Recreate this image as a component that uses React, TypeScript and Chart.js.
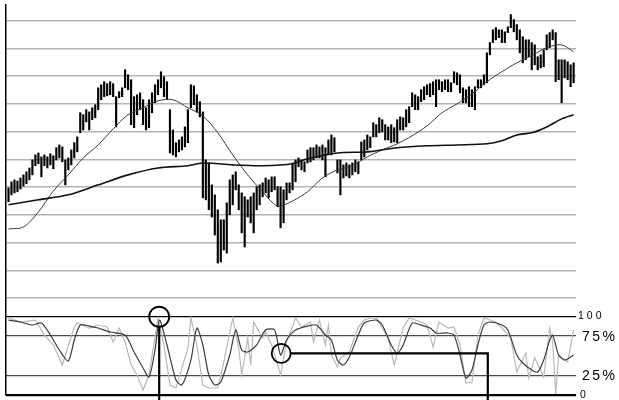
import React, { useEffect, useRef } from 'react';
import { Chart, registerables } from 'chart.js';

Chart.register(...registerables);

// ---- Price bars (high / low), one per session ----
const highs = [
  39.7, 41.9, 42.6, 42.2, 43.3, 44.4, 45.5, 46.9, 49.8, 51.6,
  52.3, 50.9, 51.6, 50.9, 52.0, 51.3, 54.2, 55.2, 54.5, 49.8,
  50.5, 53.4, 56.0, 58.1, 66.8, 66.1, 67.9, 67.1, 68.6, 69.7,
  75.8, 76.9, 78.0, 77.3, 78.0, 77.3, 72.6, 74.4, 75.8, 82.3,
  80.5, 78.7, 72.6, 73.3, 74.0, 71.5, 68.6, 71.5, 74.0, 76.9,
  78.7, 81.6, 79.8, 78.0, 67.9, 60.6, 56.0, 57.0, 58.1, 61.7,
  67.9, 76.9, 76.5, 73.3, 70.8, 67.1, 49.8, 48.7, 40.8, 37.2,
  31.8, 28.2, 28.2, 34.3, 42.6, 44.4, 45.5, 40.8, 37.9, 36.5,
  35.4, 36.5, 37.9, 40.1, 40.8, 41.5, 43.3, 42.6, 43.7, 43.7,
  40.1, 40.1, 39.0, 41.5, 41.5, 48.7, 49.8, 50.5, 49.8, 49.1,
  53.4, 54.2, 54.2, 55.2, 54.5, 55.2, 54.2, 57.0, 58.8, 57.8,
  49.8, 49.8, 48.0, 48.7, 48.0, 48.7, 49.8, 49.1, 56.3, 57.0,
  58.8, 58.1, 63.2, 62.5, 65.0, 64.3, 62.5, 61.7, 62.5, 61.4,
  64.3, 65.3, 65.0, 67.9, 69.0, 74.0, 73.3, 72.6, 75.1, 76.2,
  76.9, 77.3, 78.0, 78.7, 78.7, 78.0, 78.7, 78.7, 77.6, 81.6,
  81.2, 80.5, 75.8, 75.1, 76.2, 75.1, 76.2, 78.7, 78.7, 80.5,
  88.4, 92.1, 96.7, 97.5, 96.7, 96.7, 96.0, 97.8, 102.2, 100.4,
  98.6, 96.7, 94.2, 93.1, 93.1, 92.1, 91.3, 87.0, 87.7, 89.5,
  94.9, 95.7, 96.7, 95.7, 85.9, 85.9, 85.9, 85.2, 84.1, 84.8,
];
const lows = [
  34.7, 37.2, 37.9, 38.3, 39.3, 40.4, 41.2, 42.6, 44.4, 47.7,
  48.4, 43.7, 47.7, 46.9, 48.0, 46.6, 49.8, 50.5, 49.1, 40.8,
  46.2, 48.0, 50.5, 52.7, 59.6, 60.6, 63.5, 60.6, 64.3, 65.0,
  67.9, 71.5, 72.6, 72.9, 73.3, 72.6, 61.7, 72.2, 72.6, 75.8,
  75.1, 62.5, 61.4, 66.1, 67.9, 62.5, 60.6, 61.4, 66.8, 70.4,
  73.3, 75.8, 72.6, 71.5, 52.3, 51.6, 50.9, 52.7, 53.4, 54.5,
  56.0, 68.6, 69.7, 67.1, 65.3, 36.1, 35.4, 31.8, 29.2, 22.7,
  12.6, 13.0, 17.3, 16.2, 30.0, 33.6, 39.0, 31.8, 23.5, 18.4,
  29.2, 27.1, 23.5, 31.8, 33.6, 36.5, 37.9, 36.1, 38.3, 39.0,
  32.9, 25.3, 27.1, 35.4, 37.9, 39.0, 41.9, 47.3, 46.2, 45.5,
  48.7, 49.1, 49.8, 50.5, 50.5, 49.8, 43.7, 51.6, 51.6, 52.7,
  45.1, 37.2, 43.3, 44.0, 43.3, 44.4, 45.5, 44.8, 49.8, 50.9,
  53.4, 54.2, 58.1, 58.1, 59.6, 59.9, 57.0, 57.0, 56.0, 56.3,
  56.0, 60.6, 60.6, 61.7, 63.2, 69.0, 67.9, 67.9, 70.8, 71.5,
  73.3, 72.6, 73.3, 69.0, 75.1, 74.4, 75.1, 74.4, 74.4, 77.6,
  76.9, 74.0, 70.4, 70.4, 69.0, 69.0, 67.9, 75.8, 75.8, 76.9,
  77.6, 87.7, 92.1, 93.1, 93.9, 92.1, 92.1, 95.7, 97.5, 96.0,
  93.1, 88.4, 84.8, 85.9, 87.0, 82.3, 84.1, 82.3, 83.0, 83.4,
  89.5, 90.3, 93.1, 78.0, 78.7, 70.4, 79.4, 78.7, 76.2, 77.6,
];

// ---- Moving averages (session index, value) ----
const maShortIdx = [0, 5, 10, 15, 20, 25, 30, 35, 40, 45, 50, 55, 60, 65, 70, 75, 80, 85, 90, 95,
  100, 105, 110, 115, 120, 125, 130, 135, 140, 145, 150, 155, 160, 165, 170, 175, 180, 185, 189];
const maShort = [24.9, 25.6, 31.0, 38.6, 44.4, 50.5, 55.2, 61.0, 66.1, 68.6, 71.1, 71.5, 68.6, 65.7, 59.6, 51.6, 44.4, 38.3, 33.2, 35.0,
  38.3, 43.3, 46.2, 47.7, 50.9, 53.4, 55.6, 58.5, 62.1, 66.8, 70.0, 73.6, 78.0, 81.6, 84.8, 87.4, 90.3, 91.3, 88.8];
const maLongIdx = [0, 10, 20, 30, 40, 50, 60, 65, 75, 85, 95, 100, 110, 120, 130, 140, 150, 160, 165, 170, 175, 180, 185, 189];
const maLong = [33.6, 35.4, 37.2, 40.8, 44.4, 46.9, 47.7, 48.7, 48.0, 47.7, 48.4, 50.2, 52.3, 52.7, 54.2, 54.9, 55.2, 55.6, 56.7, 58.8, 59.6, 61.7, 64.6, 66.1];

// ---- Stochastic oscillator (session index, %) ----
const stochKIdx = [0, 4, 9, 12, 15, 18, 22, 23, 27, 30, 33, 35, 37, 39, 41, 43, 45, 47, 50, 52,
  54, 56, 60, 61, 63, 65, 67, 70, 72, 75, 77, 78, 80, 81, 82, 85, 86, 88, 91, 93,
  96, 98, 101, 102, 104, 106, 107, 108, 110, 111, 114, 117, 119, 121, 123, 127, 129, 132, 134, 138,
  140, 142, 144, 147, 149, 151, 153, 155, 157, 159, 163, 165, 168, 170, 173, 174, 176, 179, 181, 182,
  183, 184, 187, 189];
const stochK = [97.6, 92.5, 95.0, 76.0, 63.4, 38.0, 86.2, 91.2, 84.9, 88.7, 86.2, 67.2, 84.9, 67.2, 38.0, 25.3, 6.3, 25.3, 97.6, 63.4,
  12.7, 8.9, 59.5, 97.6, 63.4, 12.7, 8.9, 8.9, 41.8, 97.6, 59.5, 25.3, 72.2, 38.0, 92.5, 72.2, 79.8, 63.4, 25.3, 67.2,
  97.6, 86.2, 92.5, 67.2, 95.0, 63.4, 88.7, 50.7, 35.5, 46.9, 54.5, 86.2, 95.0, 97.6, 97.6, 72.2, 38.0, 84.9, 97.6, 92.5,
  88.7, 60.8, 92.5, 84.9, 86.2, 63.4, 15.2, 16.5, 76.0, 97.6, 92.5, 84.9, 72.2, 29.1, 53.2, 21.5, 46.9, 22.8, 84.9, 67.2,
  1.3, 50.7, 41.8, 82.4];
const stochDIdx = [0, 4, 8, 11, 14, 17, 20, 22, 24, 27, 30, 34, 39, 42, 45, 47, 49, 50.5, 53, 56,
  58, 61, 63, 65, 67, 69, 71, 74, 76, 78, 80, 83, 86, 89, 91, 93, 96, 100, 103, 106,
  108, 110, 112, 114, 117, 119, 123, 125, 128, 130, 132, 135, 138, 141, 143, 147, 149, 151, 153, 155,
  157, 159, 161, 165, 167, 170, 172, 175, 177, 179, 181, 182, 184, 186, 189];
const stochD = [95.0, 92.5, 88.7, 91.2, 76.0, 57.0, 43.1, 69.7, 88.7, 87.4, 84.9, 79.8, 76.0, 54.5, 34.2, 22.8, 57.0, 95.0, 63.4, 19.0,
  12.7, 44.3, 84.9, 63.4, 25.3, 12.7, 16.5, 50.7, 82.4, 57.0, 54.5, 63.4, 82.4, 82.4, 50.7, 69.7, 82.4, 87.4, 88.7, 76.0,
  69.7, 44.3, 38.0, 48.1, 76.0, 91.2, 95.0, 88.7, 63.4, 53.2, 63.4, 91.2, 88.7, 84.9, 78.6, 78.6, 76.0, 50.7, 21.5, 31.7,
  63.4, 88.7, 92.5, 88.7, 82.4, 50.7, 40.5, 31.7, 29.1, 44.3, 69.7, 76.0, 50.7, 44.3, 50.7];

// ---- Axis ticks / labels ----
const priceGridTicks = [0, 10, 20, 30, 40, 50, 60, 70, 80, 90, 100];
const stochTicks = [100, 75, 25, 0];
const stochTickLabels = ['100', '75%', '25%', '0'];

// ---- Annotation markers (session index, stochastic value, connector end index) ----
const markIdx = [50.4, 91.2];
const markVal = [99.2, 52.8];
const markEndIdx = [50.4, 160.3];

const FONT = '"Liberation Sans", Arial, sans-serif';

const markerPlugin = {
  id: 'markers',
  afterDraw(chart: any) {
    const ctx = chart.ctx;
    const xs = chart.scales.x;
    const ys = chart.scales.y2;
    ctx.save();
    ctx.strokeStyle = '#000';
    markIdx.forEach((mi, k) => {
      const cx = xs.getPixelForValue(mi);
      const cy = ys.getPixelForValue(markVal[k]);
      const r = k === 0 ? 10 : 9.5;
      ctx.lineWidth = 1.8;
      ctx.beginPath();
      ctx.arc(cx, cy, r, 0, Math.PI * 2);
      ctx.stroke();
      ctx.lineWidth = 2.2;
      ctx.beginPath();
      if (markEndIdx[k] === mi) {
        ctx.moveTo(cx, cy + r);
        ctx.lineTo(cx, chart.height);
      } else {
        const ex = xs.getPixelForValue(markEndIdx[k]);
        ctx.moveTo(cx + r, cy);
        ctx.lineTo(ex, cy);
        ctx.lineTo(ex, chart.height);
      }
      ctx.stroke();
    });
    ctx.restore();
  },
};

const labelPlugin = {
  id: 'stochLabels',
  afterDraw(chart: any) {
    const ctx = chart.ctx;
    const ys = chart.scales.y2;
    const right = chart.chartArea.right;
    ctx.save();
    ctx.fillStyle = '#000';
    ctx.textBaseline = 'middle';
    ctx.textAlign = 'left';
    stochTicks.forEach((v, k) => {
      const label = stochTickLabels[k];
      const big = label.indexOf('%') >= 0;
      ctx.font = (big ? '14px ' : '10.5px ') + FONT;
      (ctx as any).letterSpacing = big ? '2.5px' : '3px';
      const y = ys.getPixelForValue(v) + (big ? 1 : 0);
      const x = right + (big ? 6 : v === 0 ? 4 : 2);
      ctx.fillText(label, x, y);
    });
    (ctx as any).letterSpacing = '0px';
    ctx.restore();
  },
};

export default function App() {
  const ref = useRef<HTMLCanvasElement | null>(null);
  useEffect(() => {
    if (!ref.current) return;
    const chart = new Chart(ref.current, {
      type: 'bar',
      data: {
        datasets: [
          {
            type: 'line',
            label: 'MA long',
            data: maLongIdx.map((x, i) => ({ x, y: maLong[i] })),
            borderColor: '#111',
            borderWidth: 1.6,
            pointRadius: 0,
            tension: 0.3,
            yAxisID: 'y',
            order: 1,
          },
          {
            type: 'line',
            label: 'MA short',
            data: maShortIdx.map((x, i) => ({ x, y: maShort[i] })),
            borderColor: '#3a3a3a',
            borderWidth: 1,
            pointRadius: 0,
            tension: 0.3,
            yAxisID: 'y',
            order: 1,
          },
          {
            type: 'bar',
            label: 'Price',
            data: highs.map((h, i) => ({ x: i, y: [lows[i], h] })),
            backgroundColor: '#000',
            borderWidth: 0,
            barThickness: 1.5,
            yAxisID: 'y',
            order: 3,
          },
          {
            type: 'line',
            label: '%D',
            data: stochDIdx.map((x, i) => ({ x, y: stochD[i] })),
            borderColor: '#3c3c3c',
            borderWidth: 1.2,
            pointRadius: 0,
            tension: 0.25,
            yAxisID: 'y2',
            order: 1,
          },
          {
            type: 'line',
            label: '%K',
            data: stochKIdx.map((x, i) => ({ x, y: stochK[i] })),
            borderColor: '#b9b9b9',
            borderWidth: 1.2,
            pointRadius: 0,
            tension: 0,
            yAxisID: 'y2',
            order: 2,
          },
        ] as any,
      },
      options: {
        animation: false,
        responsive: false,
        devicePixelRatio: 1,
        events: [],
        layout: { padding: { top: 5, bottom: 5, left: 0, right: 0 } },
        plugins: { legend: { display: false }, tooltip: { enabled: false } },
        scales: {
          x: { type: 'linear', min: -0.836, max: 189.8, display: false, offset: false },
          y: {
            position: 'left',
            min: -34.98,
            max: 105.66,
            afterBuildTicks: (s: any) => { s.ticks = priceGridTicks.map((v) => ({ value: v })); },
            afterFit: (s: any) => { s.width = 6; },
            ticks: { display: false },
            grid: { color: '#b4b4b4', lineWidth: 1.5, drawTicks: false },
            border: { display: true, color: '#000', width: 1.5 },
          },
          y2: {
            position: 'right',
            min: 0,
            max: 494.3,
            afterBuildTicks: (s: any) => { s.ticks = stochTicks.map((v) => ({ value: v })); },
            afterFit: (s: any) => { s.width = 43; },
            ticks: { display: false },
            grid: {
              drawTicks: false,
              color: (c: any) => (c.tick && (c.tick.value === 0 || c.tick.value === 100) ? '#000' : '#4a4a4a'),
              lineWidth: (c: any) => (c.tick && c.tick.value === 0 ? 2.2 : 1.2),
            },
            border: { display: false },
          },
        } as any,
      },
      plugins: [markerPlugin, labelPlugin],
    });
    return () => chart.destroy();
  }, []);
  return (
    <div style={{ position: 'absolute', left: 0, top: 0, width: 619, height: 400, background: '#fff' }}>
      <canvas ref={ref} width={619} height={400} style={{ display: 'block' }} />
    </div>
  );
}
